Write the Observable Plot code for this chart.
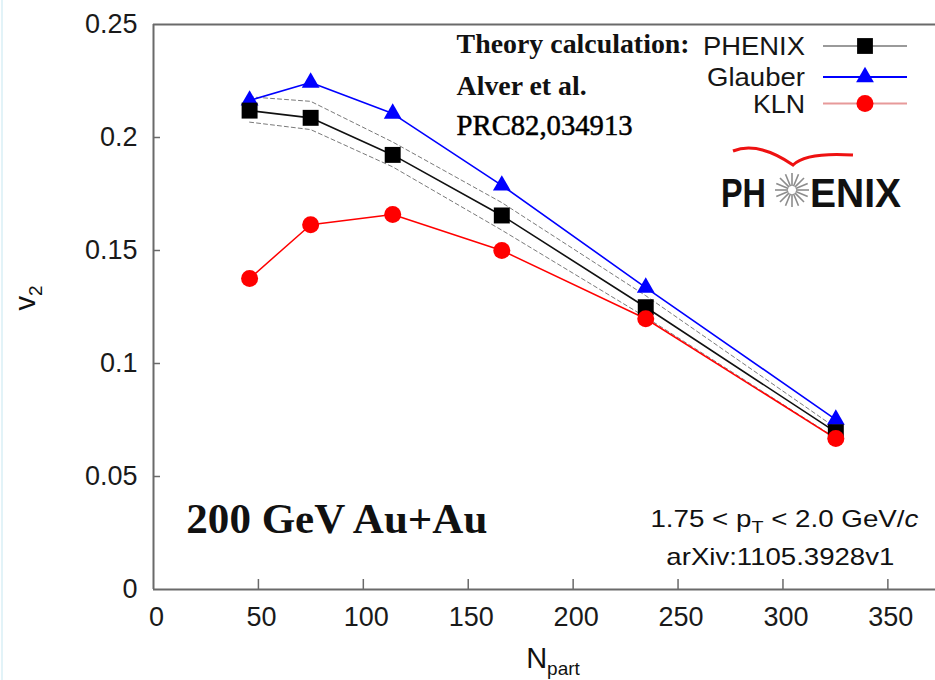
<!DOCTYPE html>
<html>
<head>
<meta charset="utf-8">
<script src="https://cdn.jsdelivr.net/npm/d3@7"></script>
<script src="https://cdn.jsdelivr.net/npm/@observablehq/plot@0.6"></script>
<style>
  html, body { margin: 0; padding: 0; background: #fff; }
  #wrap { position: relative; width: 935px; height: 680px; overflow: hidden; }
  #edge { position: absolute; left: 1px; top: 0; width: 2px; height: 680px; background: #e2f3f8; }
</style>
</head>
<body>
<div id="wrap"><div id="edge"></div></div>
<script>
// v2 vs number of participants, 200 GeV Au+Au, 1.75 < pT < 2.0 GeV/c
const npart   = [45.8, 74.9, 114.0, 166.0, 234.6, 325.2];
const phenix  = [0.2119, 0.2087, 0.1923, 0.1655, 0.1249, 0.0696];
const phenixUpper = [0.2180, 0.2160, 0.1980, 0.1712, 0.1300, 0.0715];
const phenixLower = [0.2068, 0.2035, 0.1870, 0.1590, 0.1205, 0.0670];
const glauber = [0.2164, 0.2243, 0.2106, 0.1788, 0.1336, 0.0752];
const kln     = [0.1376, 0.1614, 0.1659, 0.1500, 0.1198, 0.0668];

const xTicks = [0, 50, 100, 150, 200, 250, 300, 350];
const yTicks = [0, 0.05, 0.1, 0.15, 0.2, 0.25];

const seriesNames = ["PHENIX", "Glauber", "KLN"];

const rows = npart.map((n, i) => ({
  npart: n,
  phenix: phenix[i],
  upper: phenixUpper[i],
  lower: phenixLower[i],
  glauber: glauber[i],
  kln: kln[i]
}));

const sans = '"Liberation Sans", Arial, Helvetica, sans-serif';
const serif = '"Liberation Serif", "Times New Roman", serif';
const axisGray = "#6a6a6a";
const blue = "#0000ff", red = "#ff0000";

const W = 935, H = 680, mL = 153, mR = 0, mT = 24, mB = 91;
const frameW = W - mL - mR, frameH = H - mT - mB;

const chart = Plot.plot({
  width: W,
  height: H,
  marginLeft: mL,
  marginRight: mR,
  marginTop: mT,
  marginBottom: mB,
  x: {domain: [0, 372.7]},
  y: {domain: [0, 0.25]},
  style: {fontFamily: sans, fontSize: "27px", color: "#1a1a1a", background: "white", overflow: "visible"},
  marks: [
    // axis frame: left, bottom and top edges
    Plot.ruleX([0], {stroke: axisGray, strokeWidth: 2}),
    Plot.ruleY([0, 0.25], {stroke: axisGray, strokeWidth: 2}),
    // inward tick marks
    Plot.tickX(xTicks.slice(1), {x: d => d, stroke: axisGray, strokeWidth: 1.5, insetTop: frameH - 10}),
    Plot.tickY(yTicks.slice(1, -1), {y: d => d, stroke: axisGray, strokeWidth: 1.5, insetRight: frameW - 7}),
    Plot.axisX(xTicks, {tickSize: 0, tickPadding: 17, dx: 3, label: null, tickFormat: d => String(d)}),
    Plot.axisY(yTicks, {tickSize: 0, tickPadding: 16, label: null, tickFormat: d => String(d)}),

    // PHENIX uncertainty band edges
    Plot.line(rows, {x: "npart", y: "upper", stroke: "#7a7a7a", strokeWidth: 1, strokeDasharray: "4,3"}),
    Plot.line(rows, {x: "npart", y: "lower", stroke: "#7a7a7a", strokeWidth: 1, strokeDasharray: "4,3"}),

    // model and data curves
    Plot.line(rows, {x: "npart", y: "kln", stroke: red, strokeWidth: 1.5}),
    Plot.line(rows, {x: "npart", y: "glauber", stroke: blue, strokeWidth: 1.6}),
    Plot.line(rows, {x: "npart", y: "phenix", stroke: "#111", strokeWidth: 1.6}),

    Plot.dot(rows, {x: "npart", y: "glauber", symbol: "triangle", r: 6.6, fill: blue, stroke: "none"}),
    Plot.dot(rows, {x: "npart", y: "phenix", symbol: "square", r: 9, fill: "#000", stroke: "none"}),
    Plot.dot(rows, {x: "npart", y: "kln", symbol: "circle", r: 8.5, fill: red, stroke: "none"})
  ]
});

document.getElementById("wrap").appendChild(chart);

const svg = d3.select(chart);
const sx = chart.scale("x"), sy = chart.scale("y");
const ann = svg.append("g").attr("class", "annotations");

function put(parent, {x, y, text, anchor = "start", size, family = sans, weight = "normal", length, fill = "#111"}) {
  const t = parent.append("text")
    .attr("x", x).attr("y", y)
    .attr("text-anchor", anchor)
    .attr("font-family", family)
    .attr("font-size", size)
    .attr("font-weight", weight)
    .attr("fill", fill)
    .text(text);
  if (length) t.attr("textLength", length).attr("lengthAdjust", "spacingAndGlyphs");
  return t;
}

// literature reference for the model curves
put(ann, {x: sx.apply(144.7), y: sy.apply(0.2370), text: "Theory calculation:", size: 28, family: serif, weight: "bold", length: 233});
put(ann, {x: sx.apply(144.7), y: sy.apply(0.2186), text: "Alver et al.", size: 28, family: serif, weight: "bold", length: 130});
put(ann, {x: sx.apply(144.7), y: sy.apply(0.2009), text: "PRC82,034913", size: 29, family: serif, length: 176, fill: "#000"})
  .attr("stroke", "#000").attr("stroke-width", 0.5);

// collision system
put(ann, {x: sx.apply(15.9), y: sy.apply(0.0248), text: "200 GeV Au+Au", size: 42, family: serif, weight: "bold", length: 301});

// kinematic range and source
const kin = put(ann, {x: sx.apply(364.8), y: sy.apply(0.0274), text: "", anchor: "end", size: 24});
kin.append("tspan").text("1.75 < p");
kin.append("tspan").attr("dy", 6).attr("font-size", 17).text("T");
kin.append("tspan").attr("dy", -6).text(" < 2.0 GeV/");
kin.append("tspan").attr("font-style", "italic").text("c");
kin.attr("textLength", 268).attr("lengthAdjust", "spacingAndGlyphs");
put(ann, {x: sx.apply(299), y: sy.apply(0.0106), text: "arXiv:1105.3928v1", anchor: "middle", size: 24, length: 228});

// axis titles
const xl = put(ann, {x: 553, y: 668, text: "", anchor: "middle", size: 29});
xl.append("tspan").text("N");
xl.append("tspan").attr("dy", 7).attr("font-size", 19).text("part");
const yl = ann.append("text")
  .attr("transform", "translate(35,298) rotate(-90)")
  .attr("text-anchor", "middle")
  .attr("font-family", sans).attr("font-size", 29).attr("fill", "#111");
yl.append("tspan").text("v");
yl.append("tspan").attr("dy", 7).attr("font-size", 19).text("2");

// legend
const legend = svg.append("g").attr("class", "legend");
const legendRows = [
  {name: seriesNames[0], y: 46, lineColor: "#9a9a9a", symbol: d3.symbolSquare, size: 250, fill: "#000", len: 102},
  {name: seriesNames[1], y: 77, lineColor: blue, symbol: d3.symbolTriangle, size: 137, fill: blue, len: 98},
  {name: seriesNames[2], y: 103.5, lineColor: "#e79a9a", symbol: d3.symbolCircle, size: 227, fill: red, len: 52}
];
for (const r of legendRows) {
  legend.append("line").attr("x1", 823).attr("x2", 907).attr("y1", r.y).attr("y2", r.y)
    .attr("stroke", r.lineColor).attr("stroke-width", 2);
  legend.append("path").attr("d", d3.symbol(r.symbol, r.size)())
    .attr("transform", `translate(865,${r.y})`).attr("fill", r.fill);
  put(legend, {x: 805, y: r.y + 9, text: r.name, anchor: "end", size: 25, length: r.len, fill: "#161616"});
}

// PHENIX logo
const logo = svg.append("g").attr("class", "logo");
logo.append("path")
  .attr("d", "M733,151 Q758,141 793,165 Q806,152 853,155")
  .attr("fill", "none").attr("stroke", "#ee1111").attr("stroke-width", 3);
const cx = 792, cy = 190;
for (let i = 0; i < 16; i++) {
  const a = i * Math.PI / 8;
  logo.append("line")
    .attr("x1", cx + 4 * Math.cos(a)).attr("y1", cy + 4 * Math.sin(a))
    .attr("x2", cx + 17 * Math.cos(a)).attr("y2", cy + 17 * Math.sin(a))
    .attr("stroke", "#8c8c8c").attr("stroke-width", 1.6);
}
put(logo, {x: 721, y: 207, text: "PH", size: 41, weight: "bold", length: 45, fill: "#111"});
put(logo, {x: 810, y: 207, text: "ENIX", size: 41, weight: "bold", length: 91, fill: "#111"});
</script>
</body>
</html>
